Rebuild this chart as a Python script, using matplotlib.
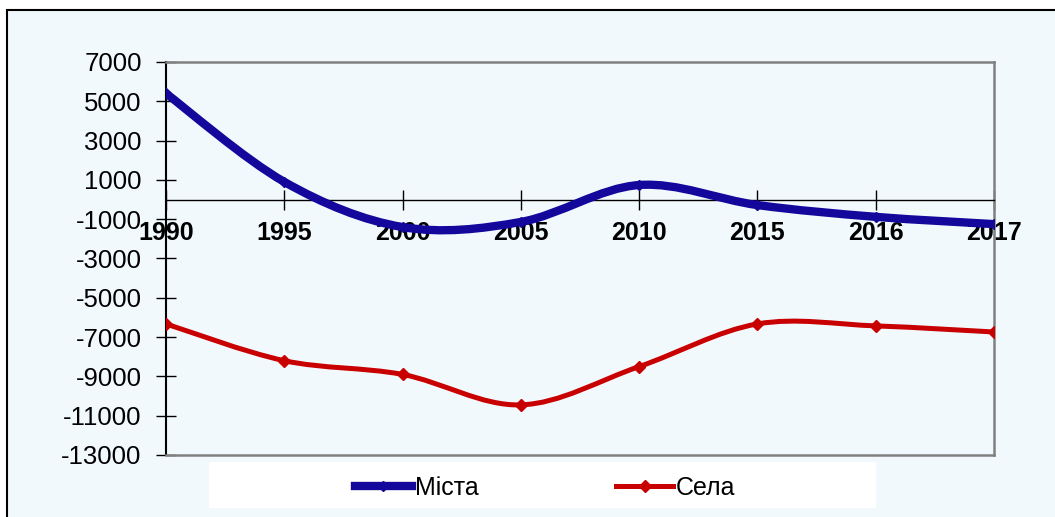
import matplotlib
matplotlib.use('Agg')
import matplotlib.pyplot as plt
from matplotlib.path import Path
from matplotlib.patches import PathPatch, Rectangle
from matplotlib.lines import Line2D

plt.rcParams['font.family'] = ['Liberation Sans', 'DejaVu Sans']

# Дані
roky = ['1990', '1995', '2000', '2005', '2010', '2015', '2016', '2017']
mista = [5400, 900, -1400, -1140, 740, -280, -880, -1250]
sela = [-6330, -8200, -8900, -10450, -8500, -6330, -6430, -6740]
y_ticks = [7000, 5000, 3000, 1000, -1000, -3000, -5000, -7000, -9000, -11000, -13000]

BLUE = '#14089C'
RED = '#C80000'
BG = '#F2F9FD'


def smooth_path(xs, ys):
    # згладжена лінія як в Excel (кубічні криві Безьє)
    n = len(xs)
    verts = [(xs[0], ys[0])]
    codes = [Path.MOVETO]
    for i in range(n - 1):
        i0 = max(i - 1, 0)
        i3 = min(i + 2, n - 1)
        c1 = (xs[i] + (xs[i + 1] - xs[i0]) / 6, ys[i] + (ys[i + 1] - ys[i0]) / 6)
        c2 = (xs[i + 1] - (xs[i3] - xs[i]) / 6, ys[i + 1] - (ys[i3] - ys[i]) / 6)
        verts += [c1, c2, (xs[i + 1], ys[i + 1])]
        codes += [Path.CURVE4] * 3
    return Path(verts, codes)


fig = plt.figure(figsize=(10.55, 5.17), dpi=100)
fig.patch.set_facecolor('white')

# рамка діаграми
fig.patches.append(Rectangle((7 / 1055, -0.02), 1.1, 1 - 10 / 517 + 0.02,
                             transform=fig.transFigure, facecolor=BG,
                             edgecolor='black', lw=1.5, zorder=-2))
# біле поле легенди
fig.patches.append(Rectangle((209 / 1055, 1 - 508 / 517), 667 / 1055, 46 / 517,
                             transform=fig.transFigure, facecolor='white',
                             edgecolor='none', zorder=-1))

ax = fig.add_axes([166 / 1055, 1 - 455 / 517, 828 / 1055, 393 / 517])
ax.set_zorder(3)
ax.set_facecolor(BG)

# вісь X проходить через нуль
ax.spines['bottom'].set_position(('data', 0))
ax.spines['bottom'].set_color('black')
ax.spines['bottom'].set_linewidth(1)
ax.spines['left'].set_color('black')
ax.spines['left'].set_linewidth(1.5)
for s in ['top', 'right']:
    ax.spines[s].set_color('#808080')
    ax.spines[s].set_linewidth(1.8)
ax.axhline(-13000, color='#808080', lw=1.8, zorder=3, clip_on=False)

x = list(range(len(roky)))

ax.add_patch(PathPatch(smooth_path(x, mista), fill=False, edgecolor=BLUE,
                       lw=6, capstyle='round', joinstyle='round', zorder=4))
ax.plot(x, mista, linestyle='none', marker='D', color=BLUE, markersize=5, zorder=5)

ax.add_patch(PathPatch(smooth_path(x, sela), fill=False, edgecolor=RED,
                       lw=3.6, capstyle='round', joinstyle='round', zorder=4))
ax.plot(x, sela, linestyle='none', marker='D', color=RED, markersize=6, zorder=5)

ax.set_xlim(0, len(roky) - 1)
ax.set_ylim(-13000, 7000)

ax.set_yticks(y_ticks)
ax.set_yticklabels([str(v) for v in y_ticks], fontsize=18.5)
ax.tick_params(axis='y', direction='inout', length=15, width=1, pad=10, colors='black')

ax.set_xticks(x)
ax.set_xticklabels(roky, fontsize=18, fontweight='bold')
ax.tick_params(axis='x', direction='inout', length=15, width=1, pad=8, colors='black')

handles = [Line2D([], [], color=BLUE, lw=6, marker='D', markersize=5),
           Line2D([], [], color=RED, lw=3.6, marker='D', markersize=6)]
fig.legend(handles, ['Міста', 'Села'], loc='center', ncol=2,
           bbox_to_anchor=(545 / 1055, 1 - 488 / 517), frameon=False,
           fontsize=18, handlelength=2.3, handletextpad=0.1, columnspacing=5.5)

fig.savefig('out.png', dpi=100, facecolor=fig.get_facecolor())
